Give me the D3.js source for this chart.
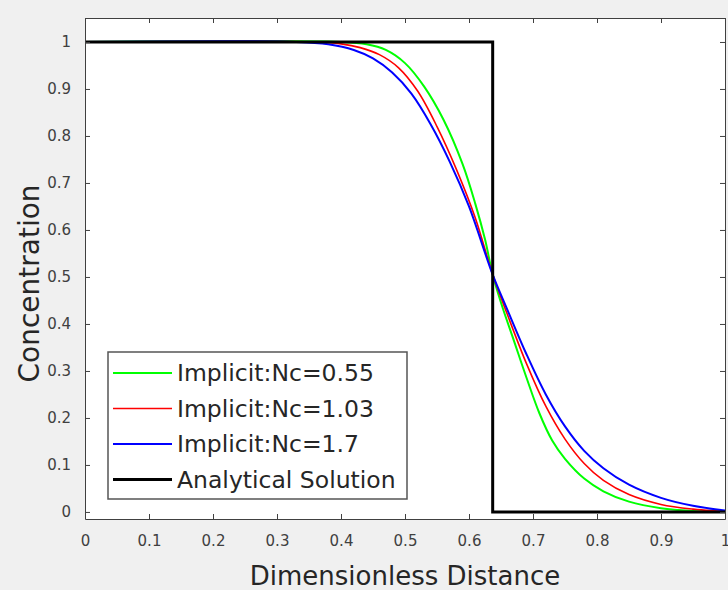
<!DOCTYPE html>
<html lang="en">
<head>
<meta charset="UTF-8">
<title>Concentration profile</title>
<script src="https://d3js.org/d3.v7.min.js"></script>
<style>
  body { margin: 0; background: #f0f0f0; }
  text { font-family: "DejaVu Sans", "Liberation Sans", sans-serif; }
</style>
</head>
<body>
<div id="graph-container"></div>
<script>
// values
const xGreen = [0, 0.40, 0.44, 0.47, 0.50, 0.53, 0.56, 0.59, 0.61, 0.625, 0.637, 0.65, 0.67, 0.69, 0.71, 0.73, 0.75, 0.78, 0.81, 0.85, 0.90, 0.95, 1];
const yGreen = [1, 1, 0.995, 0.983, 0.955, 0.905, 0.835, 0.74, 0.655, 0.58, 0.505, 0.445, 0.365, 0.285, 0.21, 0.152, 0.113, 0.071, 0.044, 0.022, 0.008, 0.002, 0];
const xRed = [0, 0.36, 0.40, 0.43, 0.46, 0.49, 0.52, 0.55, 0.58, 0.61, 0.637, 0.66, 0.69, 0.72, 0.75, 0.78, 0.81, 0.85, 0.90, 0.95, 1];
const yRed = [1, 1, 0.996, 0.988, 0.973, 0.945, 0.895, 0.82, 0.73, 0.625, 0.505, 0.42, 0.315, 0.225, 0.155, 0.103, 0.067, 0.037, 0.016, 0.006, 0.001];
const xBlue = [0, 0.33, 0.38, 0.42, 0.45, 0.48, 0.51, 0.54, 0.57, 0.60, 0.637, 0.66, 0.69, 0.72, 0.75, 0.78, 0.81, 0.85, 0.90, 0.95, 1];
const yBlue = [1, 1, 0.995, 0.983, 0.965, 0.935, 0.89, 0.825, 0.745, 0.65, 0.505, 0.43, 0.335, 0.25, 0.182, 0.13, 0.093, 0.058, 0.03, 0.013, 0.003];
const xExact = [0, 0.637, 0.637, 1];
const yExact = [1, 1, 0, 0];

const xTicks = [0, 0.1, 0.2, 0.3, 0.4, 0.5, 0.6, 0.7, 0.8, 0.9, 1];
const yTicks = [0, 0.1, 0.2, 0.3, 0.4, 0.5, 0.6, 0.7, 0.8, 0.9, 1];

const seriesNames = ["Implicit:Nc=0.55", "Implicit:Nc=1.03", "Implicit:Nc=1.7", "Analytical Solution"];
const seriesColors = ["#00ff00", "#ff0000", "#0000ff", "#000000"];
const seriesWidths = [2, 1.6, 2, 3];

const w = 728, h = 590;
const mLeft = 85, mRight = 725, mTop = 18, mBottom = 519;
const axisColor = "#404040";

const xScale = d3.scaleLinear().domain([0, 1]).range([mLeft, mRight]);
const yScale = d3.scaleLinear().domain([-0.015, 1.051]).range([mBottom, mTop]);

const svg = d3.select("#graph-container")
              .append("svg")
              .attr("width", w)
              .attr("height", h);

svg.append("rect")
   .attr("width", w).attr("height", h)
   .attr("fill", "#f0f0f0");

svg.append("rect")
   .attr("x", mLeft).attr("y", mTop)
   .attr("width", mRight - mLeft).attr("height", mBottom - mTop)
   .attr("fill", "#ffffff");

// data lines
const series = [
  d3.zip(xGreen, yGreen),
  d3.zip(xRed, yRed),
  d3.zip(xBlue, yBlue)
];

const smooth = d3.line()
                 .x(d => xScale(d[0]))
                 .y(d => yScale(d[1]))
                 .curve(d3.curveCatmullRom.alpha(0.5));

const straight = d3.line()
                   .x(d => xScale(d[0]))
                   .y(d => yScale(d[1]));

series.forEach((s, i) => {
  svg.append("path")
     .attr("d", smooth(s))
     .attr("fill", "none")
     .attr("stroke", seriesColors[i])
     .attr("stroke-width", seriesWidths[i]);
});

svg.append("path")
   .attr("d", straight(d3.zip(xExact, yExact)))
   .attr("fill", "none")
   .attr("stroke", seriesColors[3])
   .attr("stroke-width", seriesWidths[3]);

// axes, ticks inward on all four sides
const xAxis = d3.axisBottom(xScale).tickValues(xTicks).tickSizeInner(-5).tickSizeOuter(0).tickPadding(16).tickFormat(d3.format("~g"));
const yAxis = d3.axisLeft(yScale).tickValues(yTicks).tickSizeInner(-5).tickSizeOuter(0).tickPadding(14).tickFormat(d3.format("~g"));

const gx = svg.append("g").attr("transform", "translate(0," + mBottom + ")").call(xAxis);
const gy = svg.append("g").attr("transform", "translate(" + mLeft + ",0)").call(yAxis);
const gx2 = svg.append("g").attr("transform", "translate(0," + mTop + ")").call(d3.axisTop(xScale).tickValues(xTicks).tickSizeInner(-5).tickSizeOuter(0).tickFormat(""));
const gy2 = svg.append("g").attr("transform", "translate(" + mRight + ",0)").call(d3.axisRight(yScale).tickValues(yTicks).tickSizeInner(-5).tickSizeOuter(0).tickFormat(""));

[gx, gy, gx2, gy2].forEach(g => {
  g.select(".domain").attr("stroke", axisColor);
  g.selectAll(".tick line").attr("stroke", axisColor);
  g.selectAll(".tick text")
   .attr("fill", axisColor)
   .style("font-size", "15px")
   .style("font-family", "'DejaVu Sans', sans-serif");
});

svg.append("text")
   .attr("x", (mLeft + mRight) / 2)
   .attr("y", 585)
   .attr("text-anchor", "middle")
   .attr("fill", "#262626")
   .style("font-size", "26px")
   .text("Dimensionless Distance");

svg.append("text")
   .attr("transform", "translate(39," + ((mTop + mBottom) / 2 + 15) + ") rotate(-90)")
   .attr("text-anchor", "middle")
   .attr("fill", "#262626")
   .style("font-size", "28px")
   .text("Concentration");

// legend
const legend = svg.append("g").attr("id", "legend");
legend.append("rect")
      .attr("x", 108).attr("y", 352)
      .attr("width", 299).attr("height", 147)
      .attr("fill", "#ffffff")
      .attr("stroke", "#555555")
      .attr("stroke-width", 1.5);

seriesNames.forEach((name, i) => {
  const yy = 373 + i * 35.5;
  legend.append("line")
        .attr("x1", 113).attr("x2", 172)
        .attr("y1", yy).attr("y2", yy)
        .attr("stroke", seriesColors[i])
        .attr("stroke-width", seriesWidths[i]);
  legend.append("text")
        .attr("x", 177).attr("y", yy)
        .attr("dy", "0.36em")
        .attr("fill", "#262626")
        .style("font-size", "23.5px")
        .text(name);
});
</script>
</body>
</html>
